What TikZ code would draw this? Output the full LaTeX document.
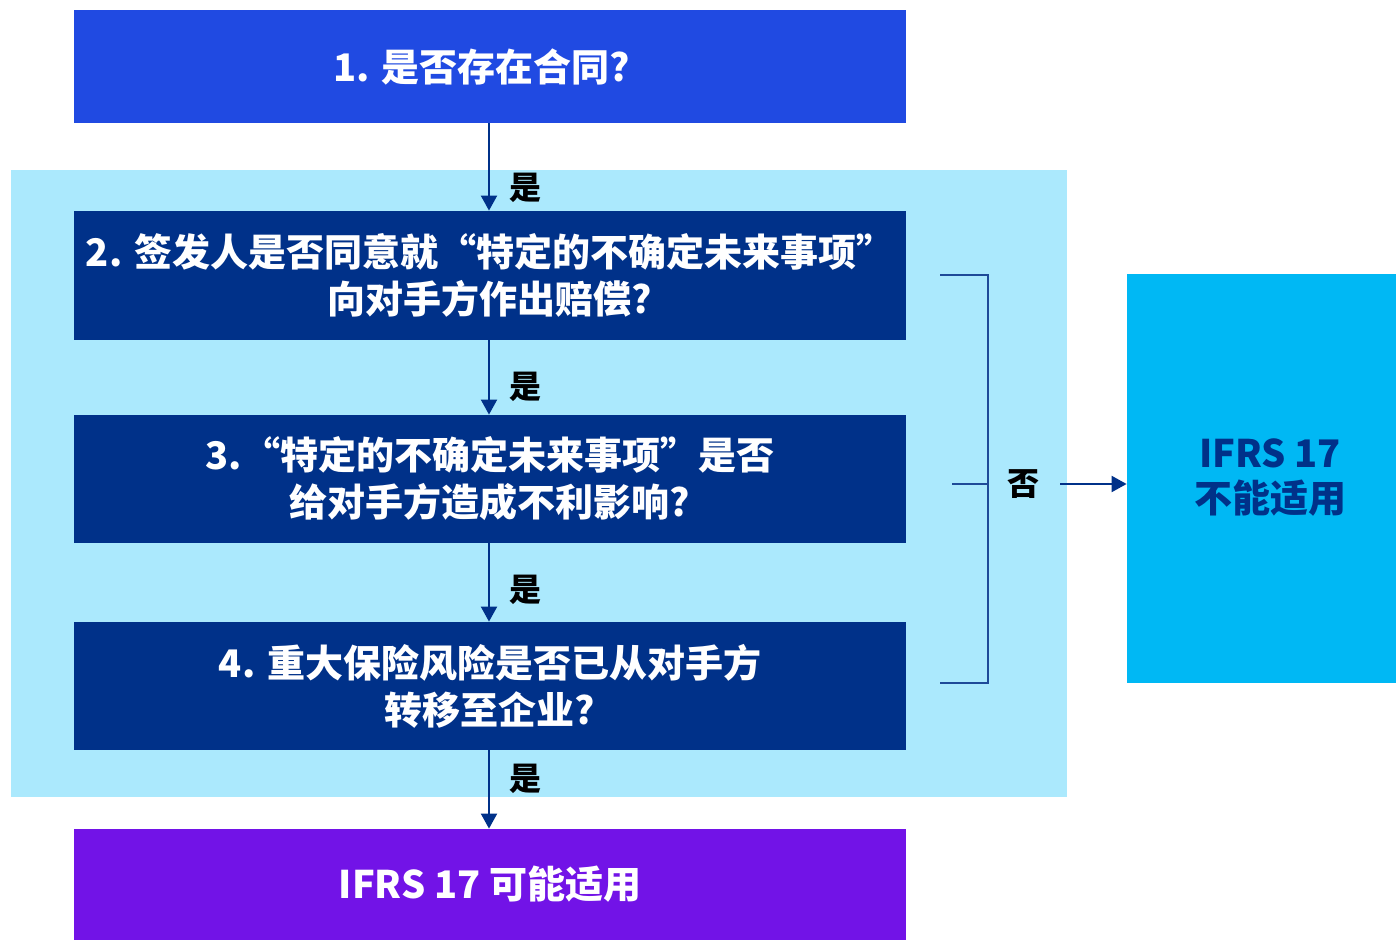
\documentclass[tikz,border=0pt]{standalone}
\usepackage{fontspec}
\newfontfamily\cjk{Noto Sans CJK SC}
\usetikzlibrary{arrows.meta}
\definecolor{topblue}{HTML}{204AE2}
\definecolor{lightbg}{HTML}{ABE9FD}
\definecolor{navy}{HTML}{003189}
\definecolor{purp}{HTML}{7213E7}
\definecolor{cyanbox}{HTML}{00B8F4}
\definecolor{brk}{HTML}{1E4A98}
\tikzset{
  stepbox/.style={rectangle, inner sep=0pt, minimum width=416pt, align=center,
    text=white, font=\cjk\bfseries\fontsize{19pt}{23.5pt}\selectfont},
  yeslbl/.style={inner sep=0pt, font=\cjk\bfseries\fontsize{16pt}{16pt}\selectfont, text=black},
  flow/.style={draw=navy, line width=1pt, -{Triangle[length=7.5pt,width=8pt]}},
}
\begin{document}
\begin{tikzpicture}[x=0.5pt,y=-0.5pt]
\useasboundingbox (0,0) rectangle (1396,940);
\fill[lightbg] (11,170) rectangle (1067,797);
\node[stepbox, fill=topblue, minimum height=56.5pt] (b1) at (490,66.5) {};
\node[stepbox] (t1) at (482,66.5) {1. 是否存在合同?};
\node[stepbox, fill=navy, minimum height=64.5pt] (b2) at (490,275.5) {2. 签发人是否同意就“特定的不确定未来事项”\\向对手方作出赔偿?};
\node[stepbox, fill=navy, minimum height=64pt] (b3) at (490,479) {3.“特定的不确定未来事项”是否\\给对手方造成不利影响?};
\node[stepbox, fill=navy, minimum height=64pt] (b4) at (490,686) {4. 重大保险风险是否已从对手方\\转移至企业?};
\node[stepbox, fill=purp, minimum height=55.5pt] (b5) at (490,884.5) {IFRS 17 可能适用};
\node[rectangle, inner sep=0pt, fill=cyanbox, minimum width=134.5pt, minimum height=204.5pt] (nb) at (1261.5,478.5) {};
\node[align=center, inner sep=0pt, text=navy, font=\cjk\bfseries\fontsize{19pt}{22.5pt}\selectfont] (nbt) at (1270,478) {IFRS 17\\不能适用};
\draw[flow] (b1.south -| 489,0) -- (b2.north -| 489,0);
\draw[flow] (b2.south -| 489,0) -- (b3.north -| 489,0);
\draw[flow] (b3.south -| 489,0) -- (b4.north -| 489,0);
\draw[flow] (b4.south -| 489,0) -- (b5.north -| 489,0);
\node[yeslbl] (y1) at (525,188) {是};
\node[yeslbl] (y2) at (525,387) {是};
\node[yeslbl] (y3) at (525,590) {是};
\node[yeslbl] (y4) at (525,779) {是};
\coordinate (bt) at (940,275);
\coordinate (bb) at (940,683);
\coordinate (tk) at (952,484);
\draw[brk, line width=0.8pt] (bt) -- (988,275) -- (988,683) -- (bb);
\draw[brk, line width=0.8pt] (tk) -- (988,484);
\node[yeslbl] (no) at (1023,484) {否};
\coordinate (na) at (1060,484);
\draw[flow] (na) -- (nb.west |- na);
\end{tikzpicture}
\end{document}
